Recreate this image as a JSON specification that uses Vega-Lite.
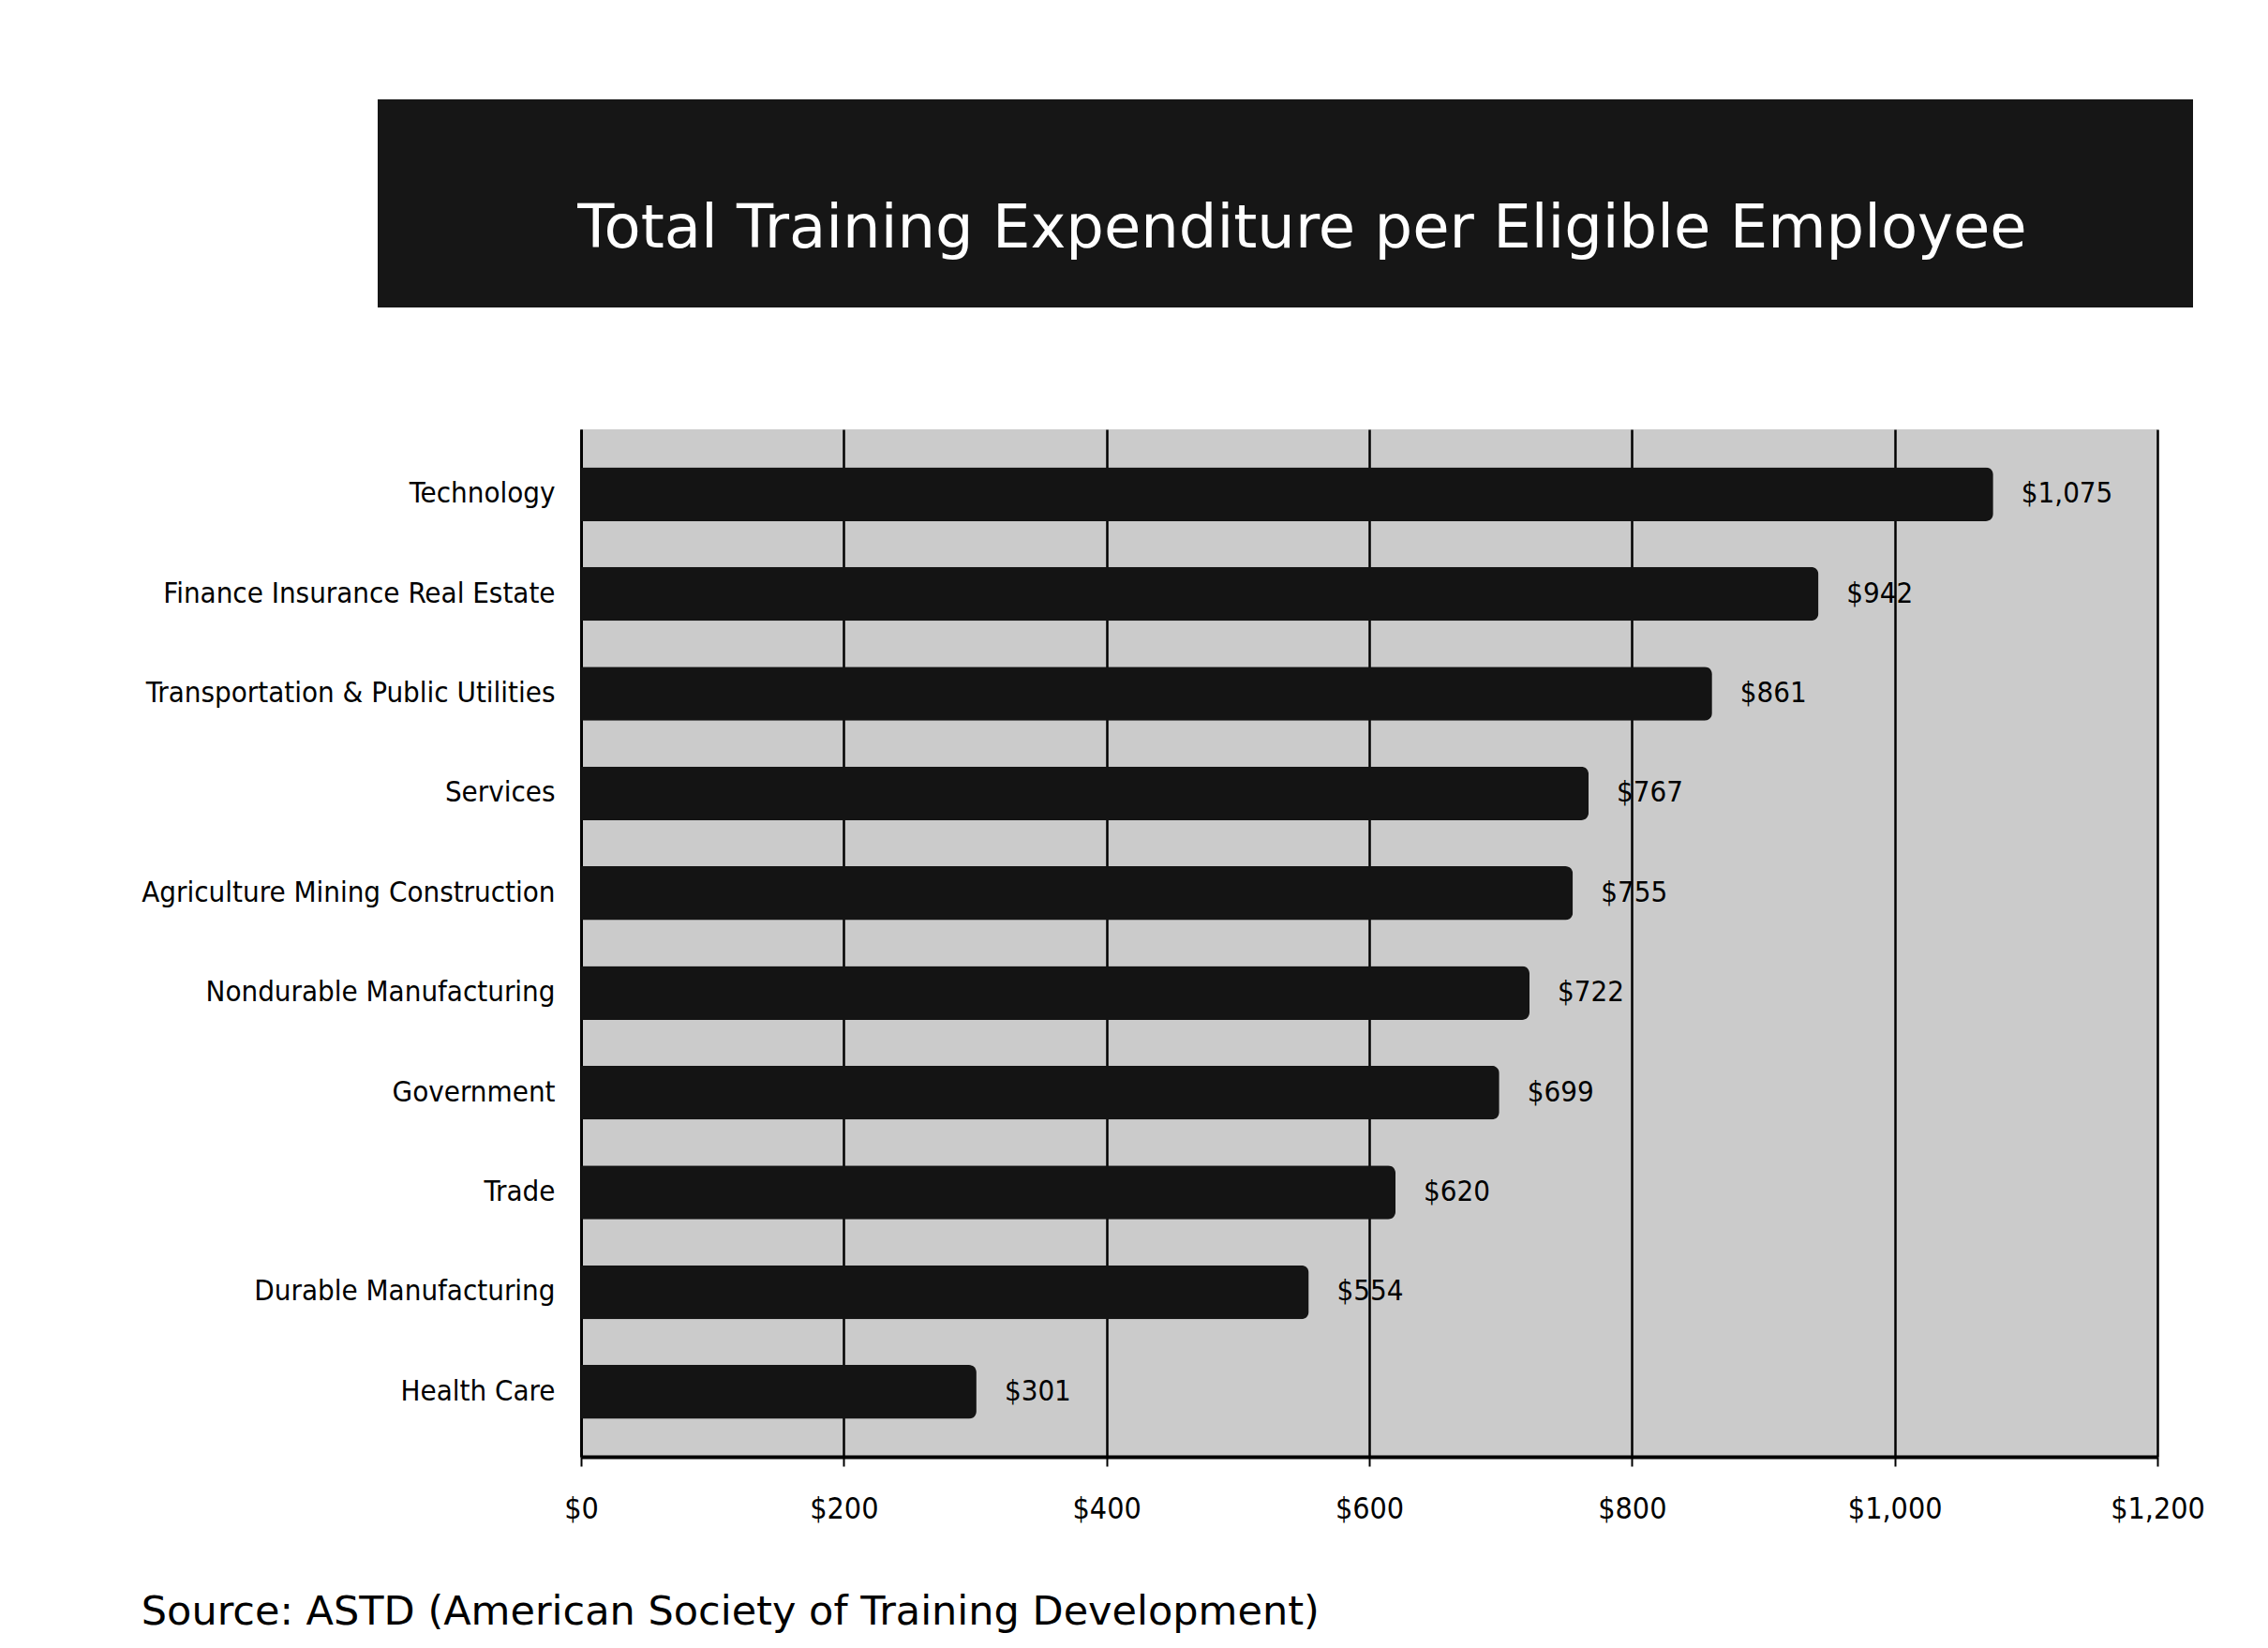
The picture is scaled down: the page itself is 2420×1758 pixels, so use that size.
{
  "$schema": "https://vega.github.io/schema/vega-lite/v6.json",
  "background": "white",
  "padding": {"left": 150, "top": 106, "right": 40, "bottom": 20},
  "bounds": "flush",
  "spacing": 130,
  "title": {
    "text": "Source: ASTD (American Society of Training Development)",
    "orient": "bottom",
    "anchor": "start",
    "font": "DejaVu Sans",
    "fontSize": 43,
    "fontWeight": "normal",
    "color": "black",
    "offset": 74
  },
  "datasets": {
    "rows": [
      {"industry": "Technology", "value": 1075},
      {"industry": "Finance Insurance Real Estate", "value": 942},
      {"industry": "Transportation & Public Utilities", "value": 861},
      {"industry": "Services", "value": 767},
      {"industry": "Agriculture Mining Construction", "value": 755},
      {"industry": "Nondurable Manufacturing", "value": 722},
      {"industry": "Government", "value": 699},
      {"industry": "Trade", "value": 620},
      {"industry": "Durable Manufacturing", "value": 554},
      {"industry": "Health Care", "value": 301}
    ],
    "banner": [
      {"title": "Total Training Expenditure per Eligible Employee"}
    ],
    "empty": []
  },
  "vconcat": [
    {
      "width": 1937,
      "height": 222,
      "view": {"fill": "#161616", "stroke": null},
      "data": {"name": "banner"},
      "mark": {"type": "text", "color": "white", "font": "DejaVu Sans", "fontSize": 64, "dy": 28, "dx": 18},
      "encoding": {"text": {"field": "title", "type": "nominal"}}
    },
    {
      "bounds": "flush",
      "spacing": 0,
      "hconcat": [
        {
          "width": 217,
          "height": 1096,
          "view": {"stroke": null, "fill": null},
          "data": {"name": "empty"},
          "mark": "point"
        },
        {
          "width": 1682,
          "height": 1096,
          "view": {"fill": "#cbcbcb", "stroke": null},
          "data": {"name": "rows"},
          "encoding": {
            "y": {
              "field": "industry",
              "type": "nominal",
              "sort": null,
              "scale": {"paddingInner": 0.46, "paddingOuter": 0.38},
              "axis": {
                "title": null,
                "labelFont": "DejaVu Sans Condensed, sans-serif",
                "labelFontSize": 31,
                "labelColor": "black",
                "labelLimit": 0,
                "labelPadding": 28,
                "ticks": false,
                "domainColor": "black",
                "domainWidth": 3
              }
            },
            "x": {
              "field": "value",
              "type": "quantitative",
              "scale": {"domain": [0, 1200]},
              "axis": {
                "title": null,
                "values": [0, 200, 400, 600, 800, 1000, 1200],
                "format": "$,.0f",
                "labelFont": "DejaVu Sans Condensed, sans-serif",
                "labelFontSize": 32,
                "labelColor": "black",
                "labelPadding": 30,
                "labelFlush": false,
                "grid": true,
                "gridColor": "black",
                "gridWidth": 2.5,
                "gridOpacity": 1,
                "ticks": true,
                "tickColor": "black",
                "tickSize": 10,
                "tickWidth": 2,
                "domainColor": "black",
                "domainWidth": 4
              }
            }
          },
          "layer": [
            {
              "mark": {"type": "bar", "color": "#141414", "cornerRadiusEnd": 8}
            },
            {
              "mark": {
                "type": "text",
                "align": "left",
                "baseline": "middle",
                "dx": 30,
                "font": "DejaVu Sans Condensed, sans-serif",
                "fontSize": 31,
                "color": "black"
              },
              "encoding": {"text": {"field": "value", "type": "quantitative", "format": "$,.0f"}}
            }
          ]
        }
      ]
    }
  ]
}
